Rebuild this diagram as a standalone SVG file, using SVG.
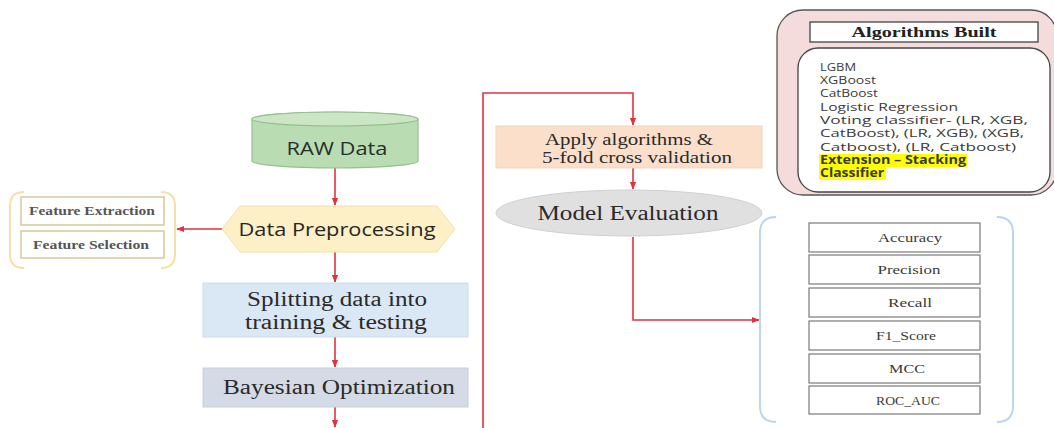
<svg xmlns="http://www.w3.org/2000/svg" width="1054" height="428" viewBox="0 0 1054 428">
<style>
.sans{font-family:"Open Sans","Liberation Sans",sans-serif}
.serif{font-family:"Liberation Serif","DejaVu Serif",serif}
.con{fill:none;stroke:#e0333f;stroke-width:1.6}
.fbox{fill:#fff;stroke:#d8c89c;stroke-width:1.5}
.mbox{fill:#fff;stroke:#7a7a7a;stroke-width:1.2}
.mt{font-family:"Liberation Serif",serif;font-size:13px;fill:#3a3a3a;text-anchor:middle}
.ft{font-family:"Liberation Serif",serif;font-size:12.5px;font-weight:bold;fill:#555;text-anchor:middle}
.lt{font-family:"Open Sans","Liberation Sans",sans-serif;font-size:11.5px;fill:#3a3a3a}
</style>
<defs>
<marker id="ar" viewBox="0 0 10 10" refX="9" refY="5" markerWidth="5" markerHeight="5" orient="auto">
<path d="M0,1 L10,5 L0,9 z" fill="#e0333f"/>
</marker>
</defs>
<rect width="1054" height="428" fill="#fff"/>

<g id="connectors">
<line class="con" x1="335" y1="168" x2="335" y2="205" marker-end="url(#ar)"/>
<line class="con" x1="222" y1="229" x2="177" y2="229" marker-end="url(#ar)"/>
<line class="con" x1="335" y1="252" x2="335" y2="282" marker-end="url(#ar)"/>
<line class="con" x1="335" y1="337" x2="335" y2="367" marker-end="url(#ar)"/>
<line class="con" x1="335" y1="407" x2="335" y2="427" marker-end="url(#ar)"/>
<polyline class="con" points="483,428 483,93 633,93 633,125" marker-end="url(#ar)"/>
<line class="con" x1="633" y1="168" x2="633" y2="189" marker-end="url(#ar)"/>
<polyline class="con" points="633,237 633,320 759,320" marker-end="url(#ar)"/>
</g>

<g id="raw-data">
<path d="M252,119 V161 A83,7 0 0 0 418,161 V119 A83,7 0 0 0 252,119 Z" fill="#b9dcb2" stroke="#93c08c" stroke-width="1.2"/>
<ellipse cx="335" cy="119" rx="83" ry="7" fill="#cbe6c5" stroke="#93c08c" stroke-width="1.2"/>
<text class="sans" x="337" y="155" font-size="19" fill="#26302a" text-anchor="middle" textLength="101" lengthAdjust="spacingAndGlyphs">RAW Data</text>
</g>

<g id="data-preprocessing">
<polygon points="222,229 240,206 437,206 455,229 437,252 240,252" fill="#fdefc6" stroke="#f5e2a8" stroke-width="1"/>
<text class="sans" x="337" y="236" font-size="19" fill="#262626" text-anchor="middle" textLength="197" lengthAdjust="spacingAndGlyphs">Data Preprocessing</text>
</g>

<g id="feature-group">
<path d="M24,192 Q10,192 10,206 V254 Q10,268 24,268" fill="none" stroke="#f6e0a8" stroke-width="2"/>
<path d="M161,192 Q175,192 175,206 V254 Q175,268 161,268" fill="none" stroke="#f6e0a8" stroke-width="2"/>
<rect class="fbox" x="21" y="197" width="143" height="28"/>
<text class="ft" x="92" y="215" textLength="126" lengthAdjust="spacingAndGlyphs">Feature Extraction</text>
<rect class="fbox" x="21" y="231" width="143" height="27"/>
<text class="ft" x="91" y="249" textLength="116" lengthAdjust="spacingAndGlyphs">Feature Selection</text>
</g>

<g id="splitting">
<rect x="203" y="283" width="265" height="54" fill="#dae7f5" stroke="#cddcee" stroke-width="1"/>
<text class="serif" x="337" y="306" font-size="20" fill="#2a2a2a" text-anchor="middle" textLength="180" lengthAdjust="spacingAndGlyphs">Splitting data into</text>
<text class="serif" x="336" y="329" font-size="20" fill="#2a2a2a" text-anchor="middle" textLength="182" lengthAdjust="spacingAndGlyphs">training &amp; testing</text>
</g>

<g id="bayesian">
<rect x="203" y="368" width="265" height="39" fill="#d5dbe6" stroke="#c7cfdc" stroke-width="1"/>
<text class="serif" x="339" y="394" font-size="20" fill="#2a2a2a" text-anchor="middle" textLength="232" lengthAdjust="spacingAndGlyphs">Bayesian Optimization</text>
</g>

<g id="apply">
<rect x="496" y="126" width="266" height="42" fill="#fbdfcb" stroke="#f5d3bb" stroke-width="1"/>
<text class="serif" x="629" y="145" font-size="16" fill="#2a2a2a" text-anchor="middle" textLength="168" lengthAdjust="spacingAndGlyphs">Apply algorithms &amp;</text>
<text class="serif" x="637" y="163" font-size="16" fill="#2a2a2a" text-anchor="middle" textLength="190" lengthAdjust="spacingAndGlyphs">5-fold cross validation</text>
</g>

<g id="model-evaluation">
<ellipse cx="629" cy="213" rx="133" ry="23" fill="#e0e0e0" stroke="#d0d0d0" stroke-width="1"/>
<text class="serif" x="628" y="220" font-size="20" fill="#2a2a2a" text-anchor="middle" textLength="181" lengthAdjust="spacingAndGlyphs">Model Evaluation</text>
</g>

<g id="algorithms-built">
<rect x="777" y="10" width="280" height="185" rx="26" fill="#f4dcdc" stroke="#555" stroke-width="1.3"/>
<rect x="810" y="22" width="228" height="20" fill="#fff" stroke="#444" stroke-width="1.3"/>
<text class="serif" x="924" y="37" font-size="14.5" font-weight="bold" fill="#222" text-anchor="middle" textLength="145" lengthAdjust="spacingAndGlyphs">Algorithms Built</text>
<rect x="798" y="48" width="252" height="144" rx="20" fill="#fff" stroke="#444" stroke-width="1.3"/>
<rect x="819" y="154" width="148" height="13" fill="#ffff00"/>
<rect x="819" y="167" width="67" height="13" fill="#ffff00"/>
<text class="lt" x="820" y="71" textLength="36" lengthAdjust="spacingAndGlyphs">LGBM</text>
<text class="lt" x="820" y="84" textLength="56" lengthAdjust="spacingAndGlyphs">XGBoost</text>
<text class="lt" x="820" y="97" textLength="58" lengthAdjust="spacingAndGlyphs">CatBoost</text>
<text class="lt" x="820" y="111" textLength="138" lengthAdjust="spacingAndGlyphs">Logistic Regression</text>
<text class="lt" x="820" y="124" textLength="208" lengthAdjust="spacingAndGlyphs">Voting classifier- (LR, XGB,</text>
<text class="lt" x="820" y="137" textLength="204" lengthAdjust="spacingAndGlyphs">CatBoost), (LR, XGB), (XGB,</text>
<text class="lt" x="820" y="151" textLength="196" lengthAdjust="spacingAndGlyphs">Catboost), (LR, Catboost)</text>
<text class="lt" x="820" y="164" font-weight="bold" fill="#333" textLength="146" lengthAdjust="spacingAndGlyphs">Extension – Stacking</text>
<text class="lt" x="820" y="177" font-weight="bold" fill="#333" textLength="64" lengthAdjust="spacingAndGlyphs">Classifier</text>
</g>

<g id="metrics">
<path d="M776,217 Q760,217 760,233 V406 Q760,422 776,422" fill="none" stroke="#bdd4ea" stroke-width="2"/>
<path d="M997,217 Q1013,217 1013,233 V406 Q1013,422 997,422" fill="none" stroke="#bdd4ea" stroke-width="2"/>
<rect class="mbox" x="809" y="223" width="171" height="29"/>
<text class="mt" x="910" y="242" textLength="64" lengthAdjust="spacingAndGlyphs">Accuracy</text>
<rect class="mbox" x="809" y="255" width="171" height="29"/>
<text class="mt" x="909" y="274" textLength="63" lengthAdjust="spacingAndGlyphs">Precision</text>
<rect class="mbox" x="809" y="288" width="171" height="29"/>
<text class="mt" x="910" y="307" textLength="44" lengthAdjust="spacingAndGlyphs">Recall</text>
<rect class="mbox" x="809" y="321" width="171" height="29"/>
<text class="mt" x="906" y="340" textLength="60" lengthAdjust="spacingAndGlyphs">F1_Score</text>
<rect class="mbox" x="809" y="354" width="171" height="29"/>
<text class="mt" x="907" y="373" textLength="36" lengthAdjust="spacingAndGlyphs">MCC</text>
<rect class="mbox" x="809" y="386" width="171" height="28"/>
<text class="mt" x="908" y="405" textLength="64" lengthAdjust="spacingAndGlyphs">ROC_AUC</text>
</g>
</svg>
